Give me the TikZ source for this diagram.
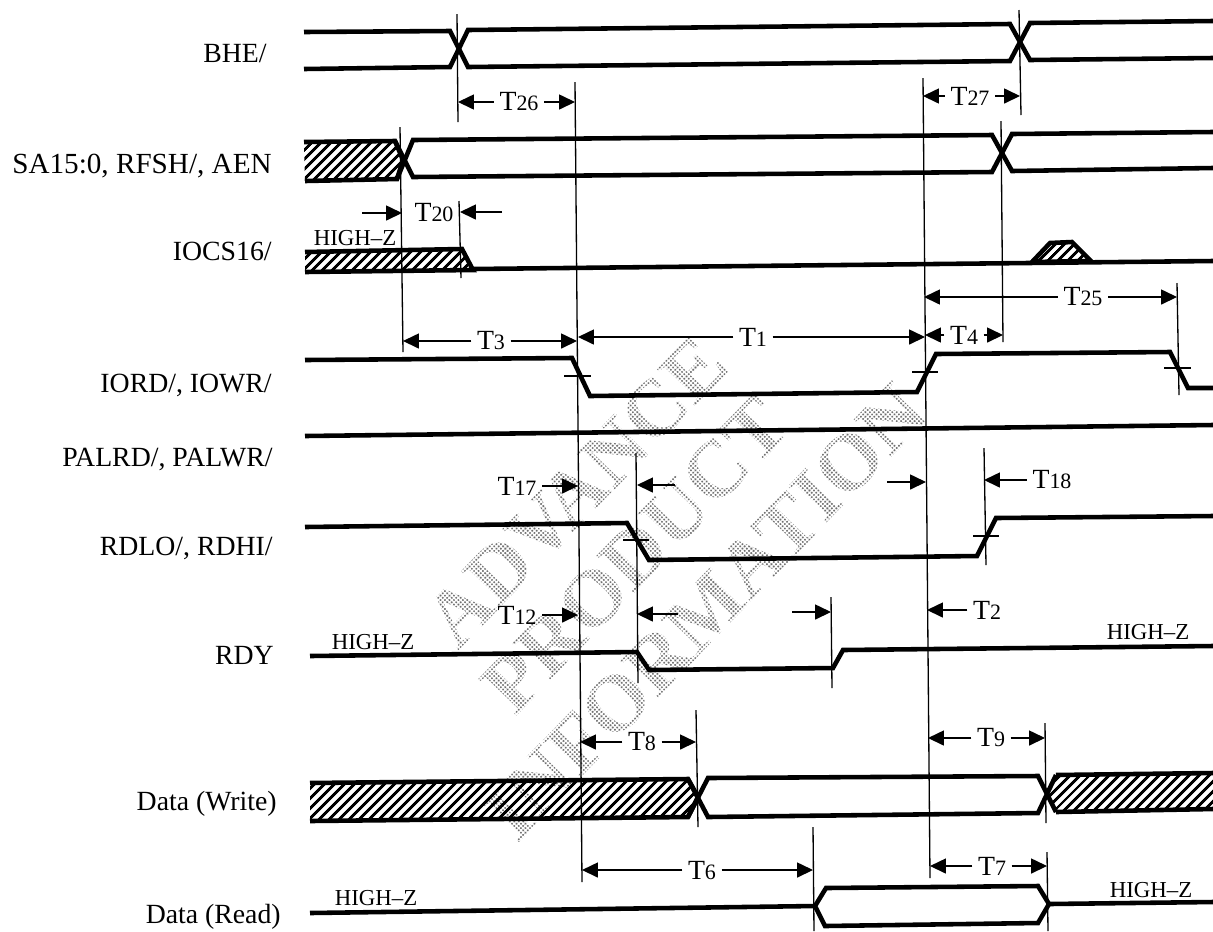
\documentclass[tikz,border=0pt]{standalone}
\usepackage{fontspec}
\setmainfont{Liberation Serif}
\usepackage{xcolor}
\definecolor{tdmark}{HTML}{6E6E6E}
\usetikzlibrary{arrows.meta,patterns.meta}
\tikzset{
  tdwave/.style={draw,line width=2.6pt},
  tdhatch/.style={pattern={Lines[angle=45,distance=4pt,line width=1.7pt]}},
  tdscreen/.style={pattern color=white,pattern={Hatch[angle=45,distance=1.8pt,line width=0.75pt]}},
  tdedge/.style={draw,line width=0.75pt},
  tdflow/.style={-{Triangle[length=9pt,width=8.5pt]},line width=0.7pt},
  tdsig/.style={font=\fontsize{15.8}{17}\selectfont,inner sep=0pt,anchor=base east},
  tdtime/.style={font=\fontsize{15.8}{17}\selectfont,inner sep=3pt},
  tdz/.style={font=\fontsize{13}{15}\selectfont,inner sep=0pt},
  tdwater/.style={font=\fontsize{46}{48}\selectfont\bfseries,text=tdmark,rotate=46,inner sep=0pt},
}
\newcommand{\tdT}[1]{T{\fontsize{12.5}{14}\selectfont #1}}

\begin{document}
\begin{tikzpicture}[x=0.02cm,y=-0.02cm]
 % ISA bus read and write cycle
\useasboundingbox (0,0) rectangle (1213,931);
\node[tdwater] (markadv) at (576,492){ADVANCE};
\node[tdwater] (markpro) at (635,555){PRODUCT};
\node[tdwater] (markinf) at (705,612){INFORMATION};
\path[tdscreen](420,320) rectangle (940,840);
 % signal names
\node[tdsig] (sigbhe) at (267,62){BHE/};
\node[tdsig,font=\fontsize{16.6}{18}\selectfont] (sigsa) at (272,173){SA15:0, RFSH/, AEN};
\node[tdsig] (sigcs) at (272,260){IOCS16/};
\node[tdsig] (sigrd) at (272,392){IORD/, IOWR/};
\node[tdsig] (sigpal) at (273,466){PALRD/, PALWR/};
\node[tdsig] (sigrdlo) at (273,555){RDLO/, RDHI/};
\node[tdsig] (sigrdy) at (274,664){RDY};
\node[tdsig] (sigdw) at (277,810){Data (Write)};
\node[tdsig] (sigdr) at (281,923){Data (Read)};
\node[tdz] (zcs) at (355,238){HIGH--Z};
\node[tdz] (zrdya) at (373,642){HIGH--Z};
\node[tdz] (zrdyb) at (1148,632){HIGH--Z};
\node[tdz] (zdra) at (376,898){HIGH--Z};
\node[tdz] (zdrb) at (1151,890){HIGH--Z};
 % waveforms
\draw[tdwave](304,32)--(450,31)--(468,67)--(1010,61)--(1030,23)--(1213,21);
\draw[tdwave](304,69)--(450,67)--(468,30)--(1010,24)--(1030,60)--(1213,58);
\path[tdhatch](304,142)--(395,141)--(403,160)--(397,179)--(305,181)--cycle;
\draw[tdwave](304,142)--(395,141)--(403,160)--(397,179)--(305,181);
\draw[tdwave](395,141)--(413,177)--(992,172)--(1012,134)--(1213,132);
\draw[tdwave](397,179)--(413,140)--(992,135)--(1012,171)--(1213,168);
\path[tdhatch](305,252)--(462,249)--(473,270)--(305,272)--cycle;
\draw[tdwave](305,252)--(462,249)--(473,270)--(305,272);
\draw[tdwave](473,269)--(1213,261);
\draw[tdwave,tdhatch](1032,262)--(1050,243)--(1072,242)--(1091,261)--cycle;
\draw[tdwave](305,360)--(572,358)--(590,396)--(917,392)--(936,354)--(1170,352)--(1188,388)--(1213,388);
\draw[tdwave](305,436)--(1213,425);
\draw[tdwave](305,527)--(627,523)--(649,560)--(977,556)--(996,518)--(1213,516);
\draw[tdwave](310,656)--(637,652)--(649,670)--(833,668)--(843,650)--(1213,646);
\path[tdhatch](310,783)--(688,779)--(698,797)--(688,817)--(310,821)--cycle;
\draw[tdwave](310,783)--(688,779)--(698,797)--(688,817)--(310,821);
\draw[tdwave](688,779)--(708,817)--(1038,813)--(1056,775);
\draw[tdwave](688,817)--(708,778)--(1038,776)--(1056,812);
\path[tdhatch](1056,775)--(1213,773)--(1213,809)--(1056,812)--(1047,794)--cycle;
\draw[tdwave](1056,775)--(1213,773);
\draw[tdwave](1056,812)--(1213,809);
\draw[tdwave](310,913)--(815,906);
\draw[tdwave](815,906)--(826,888)--(1038,886)--(1049,904)--(1038,923)--(825,926)--cycle;
\draw[tdwave](1049,904)--(1213,902);
 % edges and ticks
\draw[tdedge](457,14)--(458,122);
\draw[tdedge](575,82)--(582,882);
\draw[tdedge](400,127)--(403,352);
\draw[tdedge](459,201)--(461,278);
\draw[tdedge](923,78)--(930,878);
\draw[tdedge](1019,10)--(1021,115);
\draw[tdedge](1001,121)--(1003,342);
\draw[tdedge](1177,283)--(1179,395);
\draw[tdedge](636,453)--(638,683);
\draw[tdedge](831,597)--(832,688);
\draw[tdedge](696,710)--(698,827);
\draw[tdedge](1045,723)--(1046,823);
\draw[tdedge](813,827)--(814,931);
\draw[tdedge](984,448)--(986,565);
\draw[tdedge](1047,852)--(1048,931);
\draw[tdedge](564,376)--(591,376);
\draw[tdedge](912,372)--(938,372);
\draw[tdedge](1164,368)--(1191,368);
\draw[tdedge](623,540)--(649,540);
\draw[tdedge](973,536)--(999,536);
 % timing labels
\node[tdtime] (t26) at (519,102){\tdT{26}};
\coordinate (t26a) at (458,102); \coordinate (t26b) at (575,102);
\draw[tdflow](t26)--(t26a);
\draw[tdflow](t26)--(t26b);
\node[tdtime] (t27) at (970,96){\tdT{27}};
\coordinate (t27a) at (923,96); \coordinate (t27b) at (1020,96);
\draw[tdflow](t27)--(t27a);
\draw[tdflow](t27)--(t27b);
\node[tdtime] (t20) at (434,213){\tdT{20}};
\coordinate (t20a) at (362,213); \coordinate (t20b) at (402,213);
\coordinate (t20c) at (502,212); \coordinate (t20d) at (460,212);
\draw[tdflow](t20a)--(t20b);
\draw[tdflow](t20c)--(t20d);
\node[tdtime] (t25) at (1083,297){\tdT{25}};
\coordinate (t25a) at (924,297); \coordinate (t25b) at (1177,297);
\draw[tdflow](t25)--(t25a);
\draw[tdflow](t25)--(t25b);
\node[tdtime] (t3) at (491,341){\tdT{3}};
\coordinate (t3a) at (403,341); \coordinate (t3b) at (577,341);
\draw[tdflow](t3)--(t3a);
\draw[tdflow](t3)--(t3b);
\node[tdtime] (t1) at (753,337){\tdT{1}};
\coordinate (t1a) at (578,337); \coordinate (t1b) at (925,337);
\draw[tdflow](t1)--(t1a);
\draw[tdflow](t1)--(t1b);
\node[tdtime] (t4) at (964,335){\tdT{4}};
\coordinate (t4a) at (925,335); \coordinate (t4b) at (1003,335);
\draw[tdflow](t4)--(t4a);
\draw[tdflow](t4)--(t4b);
\node[tdtime] (t17) at (517,486){\tdT{17}};
\coordinate (t17a) at (578,486);
\draw[tdflow](t17)--(t17a);
\coordinate (t17c) at (675,485); \coordinate (t17d) at (637,485);
\draw[tdflow](t17c)--(t17d);
\coordinate (t17e) at (887,482); \coordinate (t17f) at (926,482);
\draw[tdflow](t17e)--(t17f);
\node[tdtime] (t18) at (1052,480){\tdT{18}};
\coordinate (t18a) at (984,480);
\draw[tdflow](t18)--(t18a);
\node[tdtime] (t12) at (517,615){\tdT{12}};
\coordinate (t12a) at (578,615);
\draw[tdflow](t12)--(t12a);
\coordinate (t12c) at (678,614); \coordinate (t12d) at (637,614);
\draw[tdflow](t12c)--(t12d);
\coordinate (t12e) at (792,612); \coordinate (t12f) at (831,612);
\draw[tdflow](t12e)--(t12f);
\node[tdtime] (t2) at (987,610){\tdT{2}};
\coordinate (t2a) at (927,610);
\draw[tdflow](t2)--(t2a);
\node[tdtime] (t8) at (642,742){\tdT{8}};
\coordinate (t8a) at (580,742); \coordinate (t8b) at (696,742);
\draw[tdflow](t8)--(t8a);
\draw[tdflow](t8)--(t8b);
\node[tdtime] (t9) at (991,738){\tdT{9}};
\coordinate (t9a) at (928,738); \coordinate (t9b) at (1045,738);
\draw[tdflow](t9)--(t9a);
\draw[tdflow](t9)--(t9b);
\node[tdtime] (t6) at (702,870){\tdT{6}};
\coordinate (t6a) at (582,870); \coordinate (t6b) at (813,870);
\draw[tdflow](t6)--(t6a);
\draw[tdflow](t6)--(t6b);
\node[tdtime] (t7) at (992,866){\tdT{7}};
\coordinate (t7a) at (930,866); \coordinate (t7b) at (1047,866);
\draw[tdflow](t7)--(t7a);
\draw[tdflow](t7)--(t7b);
\end{tikzpicture}
\end{document}
